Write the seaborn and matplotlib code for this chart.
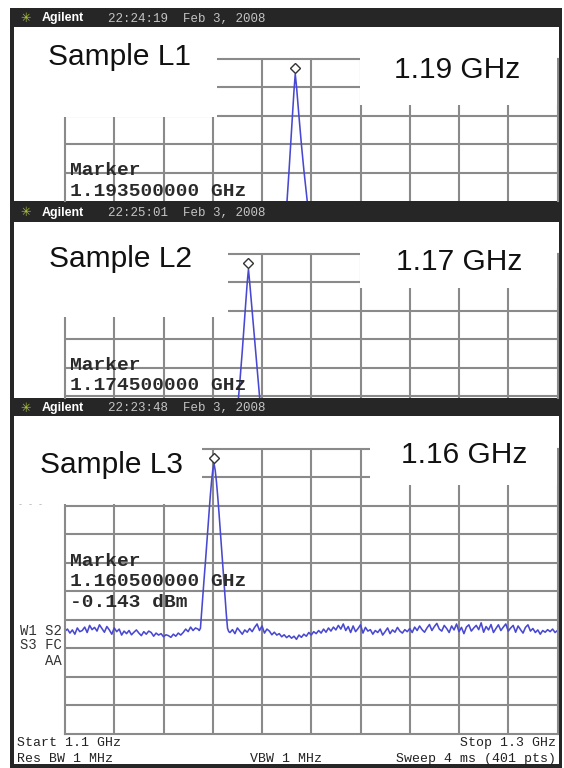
import numpy as np
import matplotlib
matplotlib.use("Agg")
import matplotlib.pyplot as plt
import matplotlib.transforms as mtransforms
from matplotlib.patches import Rectangle
import seaborn as sns

# ---------------- data ----------------
span_start_ghz = 1.1
span_stop_ghz = 1.3
div_ghz = 0.02
ref_level_dbm = 5.0
db_per_div = 10.0

sample_names = ["Sample L1", "Sample L2", "Sample L3"]
peak_labels = ["1.19 GHz", "1.17 GHz", "1.16 GHz"]
marker_freq_text = ["1.193500000 GHz", "1.174500000 GHz", "1.160500000 GHz"]
marker_ghz = [1.1935, 1.1745, 1.1605]
marker_dbm = [-0.3, -0.4, -0.143]
timestamps = ["22:24:19  Feb 3, 2008", "22:25:01  Feb 3, 2008", "22:23:48  Feb 3, 2008"]

l1_freq = [1.1880, 1.1890, 1.1900, 1.1910, 1.1920, 1.1930, 1.1935, 1.1940,
           1.1950, 1.1960, 1.1970, 1.1980, 1.1990, 1.2000]
l1_dbm = [-60, -53, -47, -34, -20, -6, -0.3, -4.5, -15, -25, -34, -42, -50, -58]

l2_freq = [1.1690, 1.1700, 1.1710, 1.1720, 1.1730, 1.1740, 1.1745, 1.1750,
           1.1760, 1.1770, 1.1780, 1.1790, 1.1800]
l2_dbm = [-60, -50, -40, -29, -17, -5, -0.4, -5, -15, -25, -35, -45, -55]

l3_noise_left_dbm = [
    -59.0, -58.3, -59.7, -58.6, -60.1, -57.9, -59.2, -58.8, -57.6, -59.5,
    -57.0, -58.5, -57.7, -59.0, -56.8, -58.1, -59.4, -57.4, -58.6, -60.1,
    -57.9, -59.2, -58.3, -60.4, -59.0, -59.9, -58.8, -60.3, -59.4, -58.6,
    -59.7, -60.6, -59.2, -60.1, -59.0, -59.5, -60.8, -59.7, -60.4, -59.9,
    -61.0, -60.3, -60.6, -61.2, -60.1, -60.8, -59.7, -60.4, -59.5, -58.3,
    -59.2, -57.6, -58.8, -57.9, -58.3]
l3_peak_freq = [1.1545, 1.1550, 1.1555, 1.1560, 1.1565, 1.1570, 1.1575, 1.1580,
                1.1585, 1.1590, 1.1595, 1.1600, 1.1605, 1.1610, 1.1615, 1.1620,
                1.1625, 1.1630, 1.1635, 1.1640, 1.1645, 1.1650, 1.1655, 1.1660,
                1.1665]
l3_peak_dbm = [-58.8, -58.0, -52.0, -46.0, -40.5, -35.0, -29.0, -23.0, -17.0,
               -11.5, -6.5, -2.5, -0.143, -2.5, -6.5, -11.5, -17.0, -23.0, -29.0,
               -35.0, -41.0, -47.0, -53.0, -58.0, -59.2]
l3_noise_right_dbm = [
    -59.5, -58.5, -59.9, -57.9, -59.0, -60.1, -58.6, -59.4, -58.1, -59.2,
    -57.7, -56.5, -58.8, -57.2, -59.7, -58.3, -59.0, -60.3, -59.4, -60.4,
    -59.9, -61.0, -60.3, -61.3, -60.6, -61.5, -60.8, -61.9, -60.4, -61.2,
    -60.1, -60.8, -59.5, -60.4, -59.2, -59.9, -58.8, -59.7, -58.3, -59.4,
    -57.9, -59.0, -57.6, -58.6, -57.0, -58.3, -56.5, -58.8, -57.4, -59.5,
    -57.2, -59.2, -58.1, -56.8, -59.7, -57.7, -59.0, -58.5, -60.1, -58.8,
    -59.5, -58.3, -60.4, -59.2, -57.9, -59.9, -58.6, -59.4, -57.7, -59.0,
    -59.7, -58.5, -59.2, -58.1, -59.5, -57.6, -58.8, -57.2, -58.5, -59.4,
    -57.9, -56.7, -58.8, -57.4, -56.3, -58.3, -59.0, -57.0, -58.1, -59.5,
    -57.2, -58.6, -56.5, -59.2, -57.7, -59.9, -57.6, -56.8, -59.0, -57.9,
    -57.0, -58.5, -56.1, -59.4, -57.4, -58.6, -56.7, -59.5, -58.1, -56.8,
    -58.8, -57.6, -56.5, -59.0, -57.9, -57.0, -59.4, -57.2, -58.5, -59.7,
    -57.7, -56.8, -59.0, -58.1, -59.5, -58.6, -60.1, -58.8, -59.4, -58.5,
    -59.2, -58.3, -59.5, -58.8]

# sweep grid for the noise floor (1 MHz steps)
l3_noise_left_freq = np.round(1.100 + 0.001 * np.arange(len(l3_noise_left_dbm)), 4)
l3_noise_right_freq = np.round(1.167 + 0.001 * np.arange(len(l3_noise_right_dbm)), 4)
l3_freq = list(l3_noise_left_freq) + l3_peak_freq + list(l3_noise_right_freq)
l3_dbm = l3_noise_left_dbm + l3_peak_dbm + l3_noise_right_dbm

traces = [(l1_freq, l1_dbm), (l2_freq, l2_dbm), (l3_freq, l3_dbm)]

# ---------------- styling / layout ----------------
W, H = 564, 768
DIV_PX = 28.45
GX0, GX1 = 65, 557.5
panels_px = [(59, 200.5), (254, 397.5), (449, 733.5)]
content_px = [(27, 200.5), (222, 397.5), (416, 763.5)]
header_base = [21.5, 216, 411]
grid_c = "#8a8a8a"
trace_c = "#4848d2"
dark = "#262626"

sns.set_theme(style="white")
plt.rcParams["font.family"] = ["Liberation Sans", "DejaVu Sans"]

fig = plt.figure(figsize=(W / 100, H / 100), dpi=100)
fig.patch.set_facecolor("white")


def fig_rect(x0, y0, x1, y1):
    return [x0 / W, 1 - y1 / H, (x1 - x0) / W, (y1 - y0) / H]


bg = fig.add_axes([0, 0, 1, 1], zorder=0)
bg.set_xlim(0, W)
bg.set_ylim(H, 0)
bg.axis("off")
bg.add_patch(Rectangle((10, 8), 552, 759.5, color=dark, lw=0))
for (c0, c1) in content_px:
    bg.add_patch(Rectangle((14, c0), 545, c1 - c0, color="white", lw=0))

for i, ((T, B), (fx, fy)) in enumerate(zip(panels_px, traces)):
    ax = fig.add_axes(fig_rect(GX0, T, GX1, B), zorder=1)
    ax.set_facecolor("none")
    ndiv = (B - T) / DIV_PX
    ax.set_xlim(span_start_ghz, span_stop_ghz)
    ax.set_ylim(ref_level_dbm - db_per_div * ndiv, ref_level_dbm)
    ax.set_xticks([span_start_ghz + div_ghz * k for k in range(1, 10)])
    ax.set_yticks([ref_level_dbm - db_per_div * k for k in range(1, int(ndiv + 0.99))])
    ax.grid(True, color=grid_c, lw=1.5)
    ax.tick_params(length=0, labelbottom=False, labelleft=False)
    for name, sp in ax.spines.items():
        sp.set_color(grid_c)
        sp.set_linewidth(1.5)
        sp.set_visible(True)
    if i < 2:
        ax.spines["bottom"].set_visible(False)
    sns.lineplot(x=fx, y=fy, ax=ax, color=trace_c, linewidth=1.15,
                 sort=False, estimator=None)
    ax.set_xlabel("")
    ax.set_ylabel("")
    off = mtransforms.ScaledTranslation(0, 6 / 100, fig.dpi_scale_trans)
    ax.plot([marker_ghz[i]], [marker_dbm[i]], marker="D", ms=4.6, mfc="white",
            mec="#333333", mew=1.0, linestyle="none",
            transform=ax.transData + off, clip_on=False, zorder=5)

ov = fig.add_axes([0, 0, 1, 1], zorder=2)
ov.set_facecolor("none")
ov.set_xlim(0, W)
ov.set_ylim(H, 0)
ov.axis("off")

# white paste-over areas hiding parts of the graticule
masks = [
    [(14, 27, 217, 116.5), (360, 27, 556.5, 104.5)],
    [(14, 222, 228, 316.5), (360, 222, 556.5, 287.5)],
    [(14, 416, 201.5, 504), (369.5, 416, 556.5, 484.5)],
]
for mlist in masks:
    for (x0, y0, x1, y1) in mlist:
        ov.add_patch(Rectangle((x0, y0), x1 - x0, y1 - y0, color="white", lw=0, zorder=1))

mono = ["Liberation Mono", "DejaVu Sans Mono"]
big_font = 21.5
sample_pos = [(48, 65), (49, 267), (40, 473)]
peak_pos = [(394, 78), (396, 270), (401, 463)]
marker_base = [(175, 196), (370, 390), (566, 586)]

for i in range(3):
    # header
    hb = header_base[i]
    ov.text(20, hb + 0.5, "\u2733", color="#a9c23a", fontsize=9,
            family=["DejaVu Sans"], va="baseline", ha="left", zorder=3)
    ov.text(42, hb, "Agilent", color="white", fontsize=9, fontweight="bold",
            va="baseline", ha="left", zorder=3)
    ov.text(108, hb, timestamps[i], color="#c4c4c4", fontsize=9, family=mono,
            va="baseline", ha="left", zorder=3)
    # labels
    ov.text(sample_pos[i][0], sample_pos[i][1], sample_names[i], fontsize=big_font,
            color="#111111", va="baseline", ha="left", zorder=3)
    ov.text(peak_pos[i][0], peak_pos[i][1], peak_labels[i], fontsize=big_font,
            color="#111111", va="baseline", ha="left", zorder=3)
    ov.text(70, marker_base[i][0], "Marker", fontsize=14, family=mono,
            fontweight="bold", color="#2a2a2a", va="baseline", ha="left", zorder=3)
    ov.text(70, marker_base[i][1], marker_freq_text[i], fontsize=14, family=mono,
            fontweight="bold", color="#2a2a2a", va="baseline", ha="left", zorder=3)

ov.text(70, 607, "-0.143 dBm", fontsize=14, family=mono, fontweight="bold",
        color="#2a2a2a", va="baseline", ha="left", zorder=3)

# left annunciators
ann_kw = dict(fontsize=10, family=mono, color="#333333", ha="right", va="baseline", zorder=3)
ov.text(62, 635, "W1 S2", **ann_kw)
ov.text(62, 649, "S3 FC", **ann_kw)
ov.text(62, 665, "AA", **ann_kw)
ov.text(18, 506, "- - -", fontsize=6, family=mono, color="#999999", ha="left", va="baseline", zorder=3)

# bottom annotation line
bot_kw = dict(fontsize=9.5, family=mono, color="#222222", va="baseline", zorder=3)
ov.text(17, 746, "Start 1.1 GHz", ha="left", **bot_kw)
ov.text(17, 762, "Res BW 1 MHz", ha="left", **bot_kw)
ov.text(250, 762, "VBW 1 MHz", ha="left", **bot_kw)
ov.text(556, 746, "Stop 1.3 GHz", ha="right", **bot_kw)
ov.text(556, 762, "Sweep 4 ms (401 pts)", ha="right", **bot_kw)

fig.savefig("out.png", dpi=100)
